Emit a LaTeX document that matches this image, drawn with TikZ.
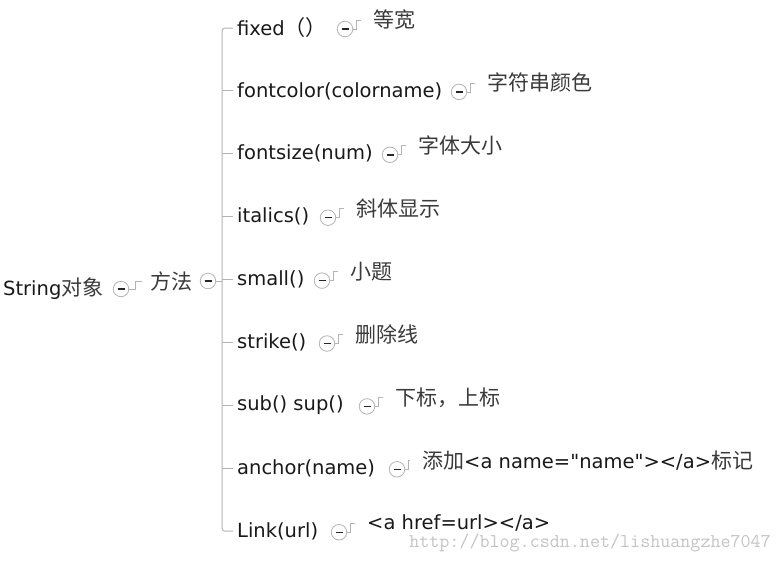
\documentclass[tikz,border=0pt]{standalone}
\usepackage{fontspec}
\setmainfont{DejaVu Sans}
\newfontfamily\cjk{Noto Sans CJK SC}
\definecolor{linegray}{HTML}{B4B4B4}
\definecolor{cjkgray}{HTML}{3A3A3A}
\definecolor{markgray}{HTML}{C4C4C4}
\newcommand\zh[1]{{\fontsize{21}{22}\cjk\color{cjkgray}#1}}

\tikzset{
  toggle/.style={circle, draw=linegray, line width=0.8pt, minimum size=15.5pt, inner sep=0pt, fill=white,
    path picture={\draw[line width=1.4pt, black!85] ([xshift=-3.5pt]path picture bounding box.center) -- ([xshift=3.5pt]path picture bounding box.center);}},
  method/.style={anchor=west, inner xsep=4pt, inner ysep=0pt, text=black!90},
  leaf/.style={anchor=west, inner xsep=12pt, inner ysep=0pt, text=black!90},
  link/.style={draw=linegray, line width=1pt},
}

\begin{document}
\begin{tikzpicture}[x=1pt, y=-1pt, font=\fontsize{19.5}{21}\selectfont]

\def\TOP{28}
\def\GAP{62.9}
\def\UP{8}

\useasboundingbox[fill=white] (0,0) rectangle (782,563);

% root and first level
\node[anchor=west, inner sep=0pt, text=black!90] (root) at (3,289) {String\zh{对象}};
\node[toggle] (t0) at (121,289) {};
\node[anchor=west, inner xsep=8pt, inner ysep=0pt] (fangfa) at (142,281) {\zh{方法}};
\node[toggle] (t1) at (208,281) {};
\coordinate (trunk) at (222,281);

% methods
\node[method] (k0) at (233,\TOP+0*\GAP) {fixed{\fontsize{21}{22}\cjk （）}};
\node[method] (k1) at (233,\TOP+1*\GAP) {fontcolor(colorname)};
\node[method] (k2) at (233,\TOP+2*\GAP) {fontsize(num)};
\node[method] (k3) at (233,\TOP+3*\GAP) {italics()};
\node[method] (k4) at (233,\TOP+4*\GAP) {small()};
\node[method] (k5) at (233,\TOP+5*\GAP) {strike()};
\node[method] (k6) at (233,\TOP+6*\GAP) {sub() sup()};
\node[method] (k7) at (233,\TOP+7*\GAP) {anchor(name)};
\node[method] (k8) at (233,\TOP+8*\GAP) {Link(url)};

% toggles
\node[toggle] (c0) at (345,\TOP+0*\GAP+1) {};
\node[toggle] (c1) at (459,\TOP+1*\GAP+1) {};
\node[toggle] (c2) at (390,\TOP+2*\GAP+1) {};
\node[toggle] (c3) at (328,\TOP+3*\GAP+1) {};
\node[toggle] (c4) at (322,\TOP+4*\GAP+1) {};
\node[toggle] (c5) at (327,\TOP+5*\GAP+1) {};
\node[toggle] (c6) at (367,\TOP+6*\GAP+1) {};
\node[toggle] (c7) at (397,\TOP+7*\GAP+1) {};
\node[toggle] (c8) at (339,\TOP+8*\GAP+1) {};

% descriptions
\node[leaf] (l0) at (345+16,\TOP+0*\GAP-\UP) {\zh{等宽}};
\node[leaf] (l1) at (459+16,\TOP+1*\GAP-\UP) {\zh{字符串颜色}};
\node[leaf] (l2) at (390+16,\TOP+2*\GAP-\UP) {\zh{字体大小}};
\node[leaf] (l3) at (328+16,\TOP+3*\GAP-\UP) {\zh{斜体显示}};
\node[leaf] (l4) at (322+16,\TOP+4*\GAP-\UP) {\zh{小题}};
\node[leaf] (l5) at (327+16,\TOP+5*\GAP-\UP) {\zh{删除线}};
\node[leaf] (l6) at (367+16,\TOP+6*\GAP-\UP) {\zh{下标，上标}};
\node[leaf] (l7) at (397+13,\TOP+7*\GAP-\UP) {\zh{添加}<a name=\textquotedbl name\textquotedbl></a>\zh{标记}};
\node[leaf] (l8) at (339+16,\TOP+8*\GAP-\UP) {<a href=url></a>};

% connectors
\draw[link] (t0.east) -- ++(6,0) |- (fangfa.west);
\draw[link] (t1.east) -- (trunk);
\draw[link, rounded corners=3pt] (k0.west) -| (trunk) |- (k8.west);
\foreach \k in {k1,k2,k3,k4,k5,k6,k7}
  \draw[link] (\k.west) -- (\k.west -| trunk);
\foreach \i in {0,...,8}
  \draw[link, line width=0.8pt] (c\i.east) -- ++(3,0) |- (l\i.west);

% watermark
\node[anchor=east, inner sep=0pt, text=markgray, font=\fontsize{19.5}{21}\ttfamily] (mark) at (771,543) {http://blog.csdn.net/lishuangzhe7047};

\end{tikzpicture}
\end{document}
